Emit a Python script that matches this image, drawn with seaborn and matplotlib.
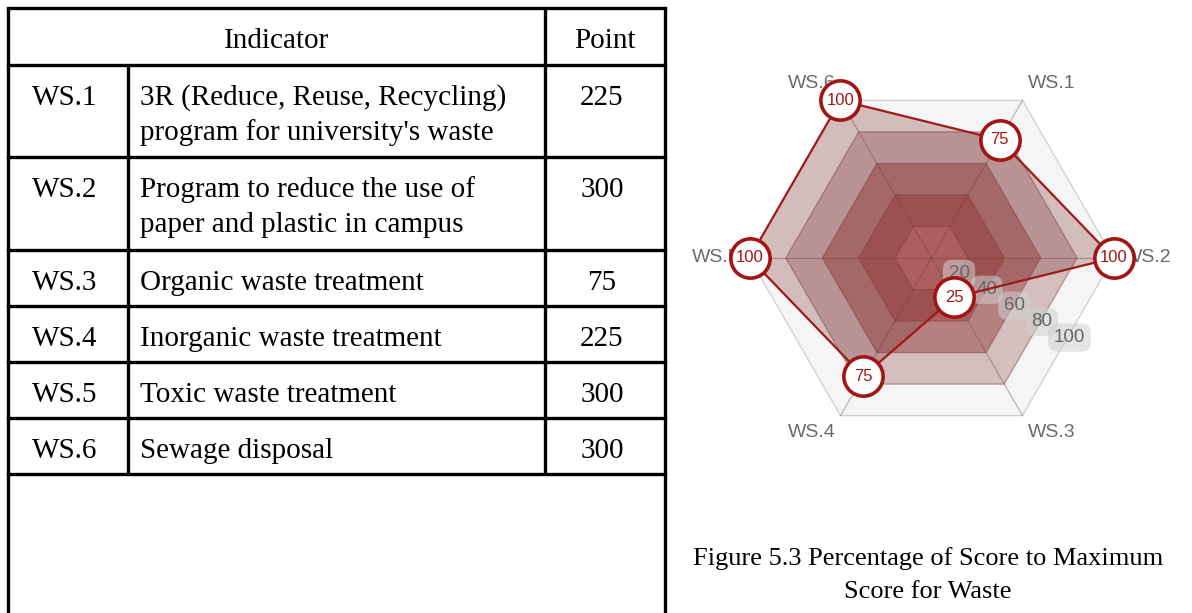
import numpy as np
import pandas as pd
import matplotlib
matplotlib.use('Agg')
import matplotlib.pyplot as plt
import seaborn as sns

# Tabela de indicadores
codes = ['WS.1', 'WS.2', 'WS.3', 'WS.4', 'WS.5', 'WS.6']
indicators = ["3R (Reduce, Reuse, Recycling)\nprogram for university's waste",
              'Program to reduce the use of\npaper and plastic in campus',
              'Organic waste treatment',
              'Inorganic waste treatment',
              'Toxic waste treatment',
              'Sewage disposal']
points = [225, 300, 75, 225, 300, 300]

# Radar: percentual do score maximo
radar_labels = ['WS.1', 'WS.2', 'WS.3', 'WS.4', 'WS.5', 'WS.6']
radar_values = [75, 100, 25, 75, 100, 100]
grid_levels = [20, 40, 60, 80, 100]
caption = 'Figure 5.3 Percentage of Score to Maximum\nScore for Waste'

sns.set_theme(style='white')
plt.rcParams['font.family'] = ['Liberation Sans', 'DejaVu Sans']

fig = plt.figure(figsize=(11.92, 6.13), dpi=100)

# ---------- tabela (coordenadas em pixels) ----------
ax_t = fig.add_axes([0, 0, 1, 1])
ax_t.set_xlim(0, 1192)
ax_t.set_ylim(613, 0)
ax_t.axis('off')

col_x = [8, 128, 545, 665]
row_y = [8, 65, 157, 250, 306, 362, 418, 474]
lw = 2.4
serif = ['Liberation Serif', 'DejaVu Serif']
fs = 21

# linhas horizontais
for y in row_y:
    ax_t.plot([col_x[0], col_x[-1]], [y, y], color='black', lw=lw, solid_capstyle='projecting')
# bordas externas ate o fim da imagem
ax_t.plot([col_x[0], col_x[0]], [row_y[0], 613], color='black', lw=lw)
ax_t.plot([col_x[-1], col_x[-1]], [row_y[0], 613], color='black', lw=lw)
# separadores internos
ax_t.plot([col_x[1], col_x[1]], [row_y[1], row_y[-1]], color='black', lw=lw)
ax_t.plot([col_x[2], col_x[2]], [row_y[0], row_y[-1]], color='black', lw=lw)

ax_t.text((col_x[0] + col_x[2]) / 2, row_y[0] + 40, 'Indicator', family=serif,
          fontsize=fs, ha='center', va='baseline', color='black')
ax_t.text((col_x[2] + col_x[3]) / 2, row_y[0] + 40, 'Point', family=serif,
          fontsize=fs, ha='center', va='baseline', color='black')

for i, (c, ind, p) in enumerate(zip(codes, indicators, points)):
    top = row_y[i + 1]
    ax_t.text(32, top + 40, c, family=serif, fontsize=fs, ha='left', va='baseline', color='black')
    for k, line in enumerate(ind.split('\n')):
        ax_t.text(140, top + 40 + 35 * k, line, family=serif, fontsize=fs,
                  ha='left', va='baseline', color='black')
    ax_t.text(602, top + 40, str(p), family=serif, fontsize=fs, ha='center',
              va='baseline', color='black')

# legenda da figura
for k, line in enumerate(caption.split('\n')):
    ax_t.text(928, 565 + 33 * k, line, family=serif, fontsize=19, ha='center',
              va='baseline', color='black')

# ---------- radar ----------
px = 1.82  # pixels por unidade
left_px, right_px, top_px, bot_px = 700, 1192, 60, 450
cx, cy = 931.5, 258
ax = fig.add_axes([left_px / 1192, (613 - bot_px) / 613,
                   (right_px - left_px) / 1192, (bot_px - top_px) / 613])
ax.set_xlim(-(cx - left_px) / px, (right_px - cx) / px)
ax.set_ylim(-(bot_px - cy) / px, (cy - top_px) / px)
ax.axis('off')
ax.patch.set_alpha(0)

n = len(radar_labels)
ang = np.deg2rad(60 - 60 * np.arange(n))
ux, uy = np.cos(ang), np.sin(ang)

ring_colors = {100: '#f5f5f5', 80: '#d4bebe', 60: '#b68080', 40: '#ab5f5f', 20: '#c27474'}
for lev in grid_levels[::-1]:
    ax.fill(lev * ux, lev * uy, color=ring_colors[lev], lw=0, zorder=1)
for lev in grid_levels:
    edge = '#cfcfcf' if lev == 100 else '#7d4848'
    a = 1 if lev == 100 else 0.5
    ax.plot(np.append(lev * ux, lev * ux[0]), np.append(lev * uy, lev * uy[0]),
            color=edge, lw=0.9, alpha=a, zorder=2)
for i in range(n):
    ax.plot([0, 100 * ux[i]], [0, 100 * uy[i]], color='#7d4848', lw=0.8, alpha=0.45, zorder=2)

vals = np.array(radar_values, dtype=float)
df = pd.DataFrame({'x': np.append(vals * ux, vals[0] * ux[0]),
                   'y': np.append(vals * uy, vals[0] * uy[0])})
ax.fill(df['x'], df['y'], color='#7a2a2a', alpha=0.28, lw=0, zorder=3)
sns.lineplot(data=df, x='x', y='y', sort=False, estimator=None, color='#9e1b1b',
             lw=1.6, ax=ax, zorder=4)

# rotulos dos eixos
pad = 5.5
for i, lab in enumerate(radar_labels):
    ha = 'left' if ux[i] > 0.1 else ('right' if ux[i] < -0.1 else 'center')
    va = 'bottom' if uy[i] > 0.1 else ('top' if uy[i] < -0.1 else 'center')
    ax.text((100 + pad) * ux[i], (100 + pad) * uy[i], lab, fontsize=14,
            color='#6b6b6b', ha=ha, va=va, zorder=3.5)

# rotulos da escala
tick_dir = np.deg2rad(-30)
for lev in grid_levels:
    ax.text(0.875 * lev * np.cos(tick_dir), 0.875 * lev * np.sin(tick_dir), str(lev),
            fontsize=13.5, color='#666666', ha='center', va='center', zorder=3.6,
            bbox=dict(boxstyle='round,pad=0.3,rounding_size=0.5', fc='#d0d0d0',
                      ec='none', alpha=0.55))

sns.scatterplot(data=df.iloc[:-1], x='x', y='y', s=800, color='white',
                edgecolor='#a31515', linewidth=2.6, ax=ax, zorder=5)
for i, v in enumerate(radar_values):
    ax.text(v * ux[i], v * uy[i], str(v), fontsize=12, color='#a31515',
            ha='center', va='center', zorder=6)

fig.savefig('out.png', dpi=100)
